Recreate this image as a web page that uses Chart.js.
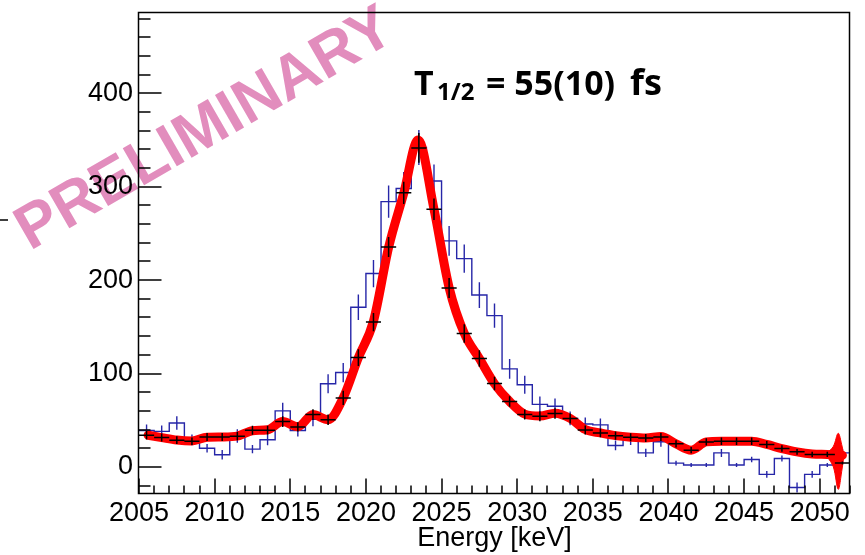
<!DOCTYPE html>
<html>
<head>
<meta charset="utf-8">
<script src="https://cdn.jsdelivr.net/npm/chart.js@4.4.0/dist/chart.umd.min.js"></script>
<style>
  html, body { margin: 0; padding: 0; background: #fff; }
  canvas { display: block; }
</style>
</head>
<body>
<canvas id="c" width="865" height="555"></canvas>
<script>
// ---------------- DATA ----------------
const binCenters = [2005.5, 2006.5, 2007.5, 2008.5, 2009.5, 2010.5, 2011.5, 2012.5, 2013.5, 2014.5,
  2015.5, 2016.5, 2017.5, 2018.5, 2019.5, 2020.5, 2021.5, 2022.5, 2023.5, 2024.5,
  2025.5, 2026.5, 2027.5, 2028.5, 2029.5, 2030.5, 2031.5, 2032.5, 2033.5, 2034.5,
  2035.5, 2036.5, 2037.5, 2038.5, 2039.5, 2040.5, 2041.5, 2042.5, 2043.5, 2044.5,
  2045.5, 2046.5, 2047.5, 2048.5, 2049.5, 2050.5, 2051.5];
const binHalfWidth = 0.5;

// blue histogram (measured spectrum) and its errors
const blueCounts = [39, 38, 47, 29, 20, 13, 33, 19, 29, 60,
  39, 51, 89, 101, 171, 207, 284, 298, 342, 306,
  242, 223, 184, 162, 105, 88, 67, 65, 52, 46,
  45, 23, 29, 15, 27, 4, 2, 2, 15, 2,
  8, -8, 9, -22, -8, 2, 15];
const blueErrors = [6.5, 6.3, 7.2, 5.8, 4.6, 5.2, 7.2, 4.5, 5.8, 8.7,
  6.5, 7.5, 10.2, 10.3, 13.6, 14.6, 17.2, 17.6, 18.8, 17.8,
  15.9, 15.2, 13.8, 13.0, 10.6, 9.6, 8.4, 8.3, 7.4, 7.0,
  6.9, 5.2, 5.6, 4.4, 5.4, 2.5, 2.2, 2.2, 4.3, 2.2,
  2.9, 3.6, 3.1, 5.3, 3.6, 2.2, 4.3];

// black points (simulated spectrum) and errors
const blackCounts = [33.9, 31.4, 28.6, 27.5, 32.1, 32.1, 32.9, 39.3, 39.3, 48.5,
  42.8, 56.0, 50.5, 73.9, 117.0, 155.0, 235.5, 293.4, 341.5, 275.9,
  191.6, 142.8, 116.0, 89.3, 70.0, 56.1, 54.3, 57.2, 51.8, 39.6,
  36.4, 33.4, 31.8, 30.9, 32.1, 24.7, 17.9, 26.8, 27.5, 27.5,
  27.5, 24.0, 19.7, 16.1, 13.3, 13.3, 4.3];
const blackErrors = [4.5, 4.3, 4.1, 4.0, 4.3, 4.3, 4.4, 4.8, 4.8, 5.8,
  5.0, 5.8, 5.5, 7.5, 8.9, 9.7, 10.7, 12.0, 16.0, 11.5,
  10.7, 10.0, 8.9, 7.1, 5.7, 5.4, 5.4, 5.6, 5.3, 4.8,
  4.6, 4.4, 4.3, 4.2, 4.3, 3.8, 3.3, 3.9, 4.0, 4.0,
  4.0, 3.7, 3.4, 3.1, 2.8, 2.8, 1.6];

// red fit curve
const fitEnergy = [2005.6, 2006.5, 2007.5, 2008.5, 2009.5, 2010.5, 2011.5, 2012.5, 2013.5, 2014.5,
  2015.5, 2016.5, 2017.5, 2018.5, 2019.5, 2020.5, 2021.5, 2022.5, 2023.45, 2024.5,
  2025.5, 2026.5, 2027.5, 2028.5, 2029.5, 2030.5, 2031.5, 2032.5, 2033.5, 2034.5,
  2035.5, 2036.5, 2037.5, 2038.5, 2039.5, 2040.5, 2041.5, 2042.5, 2043.5, 2044.5,
  2045.5, 2046.5, 2047.5, 2048.5, 2049.5, 2050.5, 2051.5];
const fitValue = [33.9, 31.4, 28.8, 27.8, 31.8, 32.1, 33.0, 38.8, 39.8, 48.5,
  43.0, 56.0, 50.5, 74.0, 117.0, 156.0, 235.0, 293.0, 350.0, 276.0,
  192.0, 143.0, 116.0, 89.0, 70.0, 56.5, 54.5, 57.5, 52.0, 40.0,
  36.4, 33.5, 31.8, 30.9, 32.5, 24.7, 17.9, 26.8, 27.5, 27.5,
  27.5, 24.0, 19.7, 16.1, 13.8, 13.3, 12.5];

// error band flare at the end of the fit
const flareEnergy = [2050.5, 2050.9, 2051.22, 2051.45, 2051.58];
const flareUpper  = [15, 22, 36, 24, 14];
const flareLower  = [11, 0, -24, -5, 10];

// axes
const xRange = [2005, 2052];
const yRange = [-29, 487];
const xTickLabels = [2005, 2010, 2015, 2020, 2025, 2030, 2035, 2040, 2045, 2050];
const yTickLabels = [0, 100, 200, 300, 400];
const xMinorStep = 1;
const yMinorStep = 20;
const xTitle = 'Energy [keV]';
const watermark = 'PRELIMINARY';

// ---------------- BUILD DATASETS ----------------
const blueStep = binCenters.map((c, i) => ({x: c - binHalfWidth, y: blueCounts[i]}));
blueStep.push({x: binCenters[binCenters.length - 1] + binHalfWidth, y: blueCounts[blueCounts.length - 1]});

const blueErrSeg = [];
binCenters.forEach((c, i) => {
  blueErrSeg.push({x: c, y: blueCounts[i] - blueErrors[i]});
  blueErrSeg.push({x: c, y: blueCounts[i] + blueErrors[i]});
  blueErrSeg.push({x: c, y: null});
});

const blackSeg = [];
binCenters.forEach((c, i) => {
  blackSeg.push({x: c - binHalfWidth, y: blackCounts[i]});
  blackSeg.push({x: c + binHalfWidth, y: blackCounts[i]});
  blackSeg.push({x: c, y: null});
  blackSeg.push({x: c, y: blackCounts[i] - blackErrors[i]});
  blackSeg.push({x: c, y: blackCounts[i] + blackErrors[i]});
  blackSeg.push({x: c, y: null});
});

const fitPts = fitEnergy.map((e, i) => ({x: e, y: fitValue[i]}));
const flareUpPts = flareEnergy.map((e, i) => ({x: e, y: flareUpper[i]}));
const flareLoPts = flareEnergy.map((e, i) => ({x: e, y: flareLower[i]}));

const BLUE = '#2626a8';
const RED = '#ff0000';
const FONT = '"Liberation Sans", Arial, Helvetica, sans-serif';
const LABEL_FONT = '"Noto Sans", "Open Sans", sans-serif';

// ---------------- DECORATION PLUGIN ----------------
const rootStyle = {
  id: 'rootStyle',
  beforeDraw(chart) {
    const ctx = chart.ctx;
    ctx.save();
    ctx.fillStyle = '#fff';
    ctx.fillRect(0, 0, chart.width, chart.height);
    // watermark
    ctx.translate(30, 251);
    ctx.rotate(-30 * Math.PI / 180);
    ctx.font = 'bold 62px ' + FONT;
    ctx.fillStyle = '#e28dbd';
    ctx.textBaseline = 'alphabetic';
    ctx.fillText(watermark, 0, 0);
    ctx.restore();
  },
  afterDraw(chart) {
    const ctx = chart.ctx, xs = chart.scales.x, ys = chart.scales.y, a = chart.chartArea;
    ctx.save();
    ctx.strokeStyle = '#000';
    ctx.lineWidth = 1.5;
    const L = Math.round(a.left) - 0.5, R = Math.round(a.right) - 0.5;
    const T = Math.round(a.top) + 0.5, B = Math.round(a.bottom) - 0.5;
    ctx.strokeRect(L, T, R - L, B - T);
    ctx.beginPath();
    // x ticks (inside)
    for (let v = xRange[0]; v <= xRange[1] + 1e-9; v += xMinorStep) {
      const px = Math.round(xs.getPixelForValue(v));
      const len = xTickLabels.includes(v) ? 15 : 8;
      ctx.moveTo(px, B); ctx.lineTo(px, B - len);
    }
    // y ticks (inside)
    const yStart = Math.ceil(yRange[0] / yMinorStep) * yMinorStep;
    for (let v = yStart; v <= yRange[1]; v += yMinorStep) {
      const py = Math.round(ys.getPixelForValue(v));
      const len = yTickLabels.includes(v) ? 23 : 12;
      ctx.moveTo(L, py); ctx.lineTo(L + len, py);
    }
    // stray tick at the left border of the canvas
    ctx.moveTo(0, 220); ctx.lineTo(8, 220);
    ctx.stroke();

    // T1/2 label
    ctx.fillStyle = '#000';
    ctx.textBaseline = 'alphabetic';
    ctx.font = 'bold 34px ' + LABEL_FONT;
    ctx.fillText('T', 414, 95);
    ctx.font = 'bold 24px ' + LABEL_FONT;
    ctx.fillText('1/2', 437, 100);
    ctx.font = 'bold 34px ' + LABEL_FONT;
    ctx.fillText('= 55(10)', 486, 95);
    ctx.font = 'bold 36px ' + LABEL_FONT;
    ctx.fillText('fs', 630, 95);
    ctx.restore();
  }
};

// ---------------- CHART ----------------
new Chart(document.getElementById('c'), {
  type: 'line',
  data: {
    datasets: [
      { label: 'sim', data: blackSeg, borderColor: '#000', borderWidth: 1.5, pointRadius: 0,
        tension: 0, spanGaps: false, fill: false },
      { label: 'fit', data: fitPts, borderColor: RED, borderWidth: 9, pointRadius: 0,
        cubicInterpolationMode: 'monotone', borderJoinStyle: 'round', borderCapStyle: 'round', fill: false },
      { label: 'flareUp', data: flareUpPts, borderColor: RED, borderWidth: 1, pointRadius: 0,
        tension: 0.35, fill: '+1', backgroundColor: RED },
      { label: 'flareLo', data: flareLoPts, borderColor: RED, borderWidth: 1, pointRadius: 0,
        tension: 0.35, fill: false },
      { label: 'dataErr', data: blueErrSeg, borderColor: BLUE, borderWidth: 1.4, pointRadius: 0,
        tension: 0, spanGaps: false, fill: false },
      { label: 'data', data: blueStep, borderColor: BLUE, borderWidth: 1.4, pointRadius: 0,
        stepped: 'before', fill: false }
    ]
  },
  options: {
    responsive: false,
    animation: false,
    devicePixelRatio: 1,
    layout: { padding: { top: 12, right: 15, left: 0, bottom: 0 } },
    plugins: { legend: { display: false }, tooltip: { enabled: false } },
    scales: {
      x: {
        type: 'linear', position: 'bottom', min: xRange[0], max: xRange[1],
        afterBuildTicks: s => { s.ticks = xTickLabels.map(v => ({ value: v })); },
        afterFit: s => { s.height = 61; s.paddingLeft = 0; s.paddingRight = 0; },
        grid: { display: false, drawTicks: false },
        border: { display: false },
        ticks: { color: '#000', font: { family: FONT, size: 27 }, padding: 3,
                 maxRotation: 0, autoSkip: false, callback: v => String(v) },
        title: { display: true, text: xTitle, align: 'center', color: '#000',
                 font: { family: FONT, size: 27 }, padding: { top: 0, bottom: 0 } }
      },
      y: {
        type: 'linear', position: 'left', min: yRange[0], max: yRange[1],
        afterBuildTicks: s => { s.ticks = yTickLabels.map(v => ({ value: v })); },
        afterFit: s => { s.width = 139; s.paddingTop = 0; s.paddingBottom = 0; },
        grid: { display: false, drawTicks: false },
        border: { display: false },
        ticks: { color: '#000', font: { family: FONT, size: 27 }, padding: 6,
                 autoSkip: false, callback: v => String(v) }
      }
    }
  },
  plugins: [rootStyle]
});
</script>
</body>
</html>
